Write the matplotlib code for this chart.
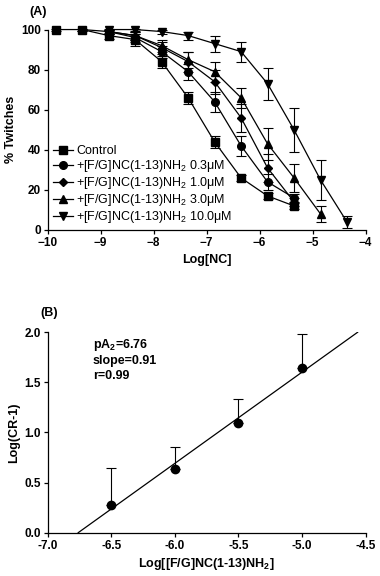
import numpy as np
import matplotlib
matplotlib.use("Agg")
import matplotlib.pyplot as plt

plt.rcParams["font.family"] = ["Liberation Sans", "DejaVu Sans"]
plt.rcParams["font.weight"] = "bold"
plt.rcParams["mathtext.default"] = "regular"

# ── Panel A data ─────────────────────────────────────────────────────────────
log_nc = [-9.85, -9.35, -8.85, -8.35, -7.85, -7.35, -6.85, -6.35, -5.85, -5.35, -4.85, -4.35]

ctrl_x = log_nc[:10]
ctrl_y = [100, 100, 97, 95, 84, 66, 44, 26, 17, 12]
ctrl_e = [0.5, 0.5, 1.5, 3, 3, 3, 3, 1.5, 1.5, 1.5]

c03_x = log_nc[1:10]
c03_y = [100, 99, 96, 89, 79, 64, 42, 24, 16]
c03_e = [0.5, 1, 2, 3, 4, 5, 5, 4, 2]

c10_x = log_nc[2:10]
c10_y = [99, 97, 91, 84, 74, 56, 31, 14]
c10_e = [1, 2, 3, 5, 6, 7, 7, 2]

c30_x = log_nc[2:11]
c30_y = [99, 97, 92, 85, 79, 66, 43, 26, 8]
c30_e = [1, 2, 3, 4, 5, 5, 8, 7, 4]

c100_x = log_nc[2:12]
c100_y = [100, 100, 99, 97, 93, 89, 73, 50, 25, 4]
c100_e = [0.5, 0.5, 1, 2, 4, 5, 8, 11, 10, 3]

labels = ["Control",
          "+[F/G]NC(1-13)NH$_2$ 0.3\u03bcM",
          "+[F/G]NC(1-13)NH$_2$ 1.0\u03bcM",
          "+[F/G]NC(1-13)NH$_2$ 3.0\u03bcM",
          "+[F/G]NC(1-13)NH$_2$ 10.0\u03bcM"]
markers = ["s", "o", "D", "^", "v"]
msizes = [5.5, 5.5, 4, 5.5, 5.5]

# ── Panel B data ─────────────────────────────────────────────────────────────
schild_x = [-6.5, -6.0, -5.5, -5.0]
schild_y = [0.28, 0.64, 1.09, 1.64]
schild_up = [0.65, 0.85, 1.33, 1.98]
pA2 = 6.76
slope = 0.91

fig = plt.figure(figsize=(3.8, 5.76), dpi=100)

# ── Panel A ──────────────────────────────────────────────────────────────────
axA = fig.add_axes([0.1255, 0.6007, 0.8365, 0.348])
series = [(ctrl_x, ctrl_y, ctrl_e), (c03_x, c03_y, c03_e), (c10_x, c10_y, c10_e),
          (c30_x, c30_y, c30_e), (c100_x, c100_y, c100_e)]
handles = []
for (x, y, e), lab, m, ms in zip(series, labels, markers, msizes):
    h = axA.errorbar(x, y, yerr=e, color="black", marker=m, markersize=ms,
                     linewidth=0.9, elinewidth=0.8, capsize=3.5, capthick=0.8,
                     clip_on=False, label=lab)
    handles.append(h)
axA.set_xlim(-10, -4)
axA.set_ylim(0, 100)
axA.set_xticks(np.arange(-10, -3, 1))
axA.set_yticks(np.arange(0, 101, 20))
axA.set_xlabel("Log[NC]", fontsize=9, fontweight="bold", labelpad=4)
axA.set_ylabel("% Twitches", fontsize=9, fontweight="bold", labelpad=3)
axA.legend(handles=[h[0] for h in handles], labels=labels, loc="lower left",
           bbox_to_anchor=(0.0, 0.0), frameon=False,
           prop={"size": 9, "weight": "normal"},
           handlelength=1.6, handletextpad=0.3, labelspacing=0.08,
           borderaxespad=0.0)
fig.text(0.077, 0.979, "(A)", fontsize=9, fontweight="bold", va="center")

# ── Panel B ──────────────────────────────────────────────────────────────────
axB = fig.add_axes([0.1255, 0.0752, 0.8365, 0.348])
yerr = [[0] * len(schild_y), [u - v for u, v in zip(schild_up, schild_y)]]
axB.errorbar(schild_x, schild_y, yerr=yerr, fmt="o", color="black",
             markersize=6, elinewidth=0.8, capsize=3.5, capthick=0.8)
x0 = -pA2
x1 = x0 + 2.0 / slope
axB.plot([x0, x1], [0, slope * (x1 - x0)], color="black", linewidth=0.9)
axB.set_xlim(-7.0, -4.5)
axB.set_ylim(0, 2.0)
axB.set_xticks(np.arange(-7.0, -4.4, 0.5))
axB.set_xticklabels([f"{v:.1f}" for v in np.arange(-7.0, -4.4, 0.5)])
axB.set_yticks(np.arange(0, 2.01, 0.5))
axB.set_yticklabels([f"{v:.1f}" for v in np.arange(0, 2.01, 0.5)])
axB.set_xlabel("Log[[F/G]NC(1-13)NH$_2$]", fontsize=9, fontweight="bold", labelpad=3)
axB.set_ylabel("Log(CR-1)", fontsize=9, fontweight="bold", labelpad=3)
axB.text(0.142, 0.975, f"pA$_2$={pA2:.2f}\nslope={slope:.2f}\nr=0.99",
         transform=axB.transAxes, fontsize=9, fontweight="bold", va="top",
         linespacing=1.25)
fig.text(0.105, 0.456, "(B)", fontsize=9, fontweight="bold", va="center")

for ax in (axA, axB):
    ax.spines["top"].set_visible(False)
    ax.spines["right"].set_visible(False)
    ax.spines["left"].set_linewidth(0.9)
    ax.spines["bottom"].set_linewidth(0.9)
    ax.tick_params(direction="out", length=3, width=0.9, pad=2, labelsize=8.5)
    for t in ax.get_xticklabels() + ax.get_yticklabels():
        t.set_fontweight("bold")

fig.patch.set_facecolor("white")
plt.savefig("out.png", dpi=100)
